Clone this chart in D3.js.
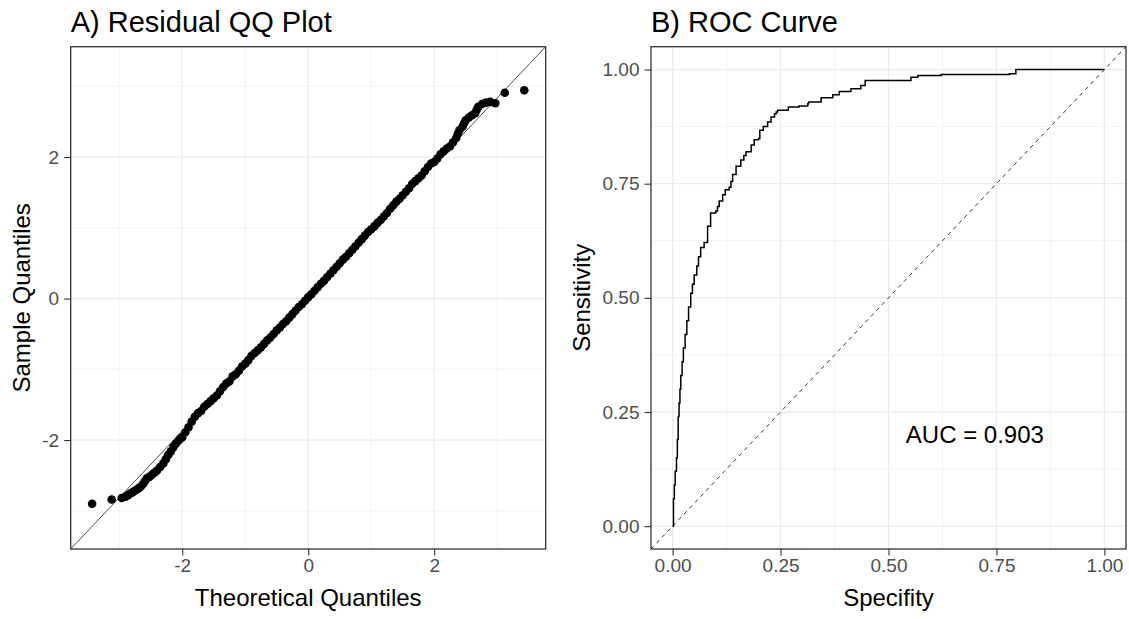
<!DOCTYPE html>
<meta charset="utf-8">
<html>
<style type='text/css'>
	body { margin:0; background:#fff; }
	text { font-family: "Liberation Sans", Arial, sans-serif; }
</style>
<script src="https://d3js.org/d3.v7.min.js"></script>
<body>
<svg id="chart" width="1129" height="619"></svg>

<script>

// ---- Panel A data: residual QQ
var theoretical = [
  -3.43, -3.12, -2.96, -2.90, -2.86, -2.83, -2.79, -2.76, -2.72, -2.69, -2.66, -2.62, -2.59, -2.56, -2.52, -2.48, -2.44,
  -2.40, -2.35, -2.30, -2.26, -2.22, -2.18, -2.14, -2.10, -2.06, -2.03, -2.00,
  -1.95, -1.90, -1.85, -1.80, -1.75, -1.70, -1.65, -1.60, -1.55, -1.50, -1.45, -1.40, -1.35, -1.30, -1.25, -1.20,
  -1.15, -1.10, -1.05, -1.00, -0.95, -0.90, -0.85, -0.80, -0.75, -0.70, -0.65, -0.60, -0.55, -0.50, -0.45, -0.40,
  -0.35, -0.30, -0.25, -0.20, -0.15, -0.10, -0.05, 0.00, 0.05, 0.10, 0.15, 0.20, 0.25, 0.30, 0.35, 0.40,
  0.45, 0.50, 0.55, 0.60, 0.65, 0.70, 0.75, 0.80, 0.85, 0.90, 0.95, 1.00, 1.05, 1.10, 1.15, 1.20,
  1.25, 1.30, 1.35, 1.40, 1.45, 1.50, 1.55, 1.60, 1.65, 1.70, 1.75, 1.80, 1.85, 1.90, 1.95,
  2.00, 2.05, 2.10, 2.15, 2.20, 2.25, 2.30, 2.35, 2.375, 2.40, 2.45, 2.475, 2.50, 2.55, 2.60, 2.65, 2.675, 2.70,
  2.76, 2.82, 2.89, 2.97, 3.12, 3.43
];
var sample = [
  -2.90, -2.84, -2.82, -2.80, -2.78, -2.76, -2.74, -2.72, -2.70, -2.68, -2.66, -2.62, -2.58, -2.54, -2.52, -2.49, -2.46,
  -2.43, -2.38, -2.33, -2.27, -2.21, -2.16, -2.10, -2.05, -2.01, -1.98, -1.96,
  -1.89, -1.82, -1.74, -1.67, -1.62, -1.59, -1.53, -1.49, -1.45, -1.41, -1.37, -1.31, -1.25, -1.20, -1.17, -1.10,
  -1.07, -1.02, -0.96, -0.92, -0.87, -0.81, -0.77, -0.73, -0.69, -0.64, -0.59, -0.55, -0.50, -0.45, -0.41, -0.36,
  -0.32, -0.27, -0.22, -0.17, -0.12, -0.08, -0.03, 0.02, 0.06, 0.11, 0.16, 0.21, 0.25, 0.30, 0.35, 0.40,
  0.45, 0.50, 0.55, 0.59, 0.64, 0.69, 0.74, 0.79, 0.84, 0.89, 0.94, 0.98, 1.02, 1.07, 1.11, 1.16,
  1.21, 1.27, 1.32, 1.37, 1.41, 1.46, 1.51, 1.56, 1.62, 1.66, 1.70, 1.74, 1.80, 1.86, 1.91,
  1.93, 1.98, 2.04, 2.08, 2.12, 2.15, 2.21, 2.27, 2.33, 2.38, 2.43, 2.48, 2.52, 2.56, 2.59, 2.62, 2.67, 2.71,
  2.75, 2.77, 2.78, 2.76, 2.91, 2.945
];
// qq reference line end points
var qqLineX = [-3.77, 3.77];
var qqLineY = [-3.54, 3.56];

var qqMajor = [-2, 0, 2];
var qqMinor = [-3, -1, 1, 3];

// ---- Panel B data: ROC curve (step corners)
var rocX = [
  0, 0.002, 0.004, 0.006, 0.009, 0.011, 0.013, 0.015, 0.017, 0.019, 0.022, 0.025, 0.029, 0.033, 0.037, 0.042,
  0.046, 0.050, 0.056, 0.060, 0.065, 0.073, 0.081, 0.088, 0.100, 0.104, 0.108, 0.116, 0.122, 0.131, 0.135, 0.139,
  0.147, 0.158, 0.165, 0.170, 0.182, 0.189, 0.199, 0.202, 0.210, 0.220, 0.228, 0.236, 0.240, 0.243, 0.268, 0.293,
  0.313, 0.315, 0.344, 0.371, 0.386, 0.413, 0.436, 0.446, 0.552, 0.568, 0.622, 0.780, 0.795, 1.000
];
var rocY = [
  0, 0.06, 0.09, 0.12, 0.15, 0.19, 0.24, 0.27, 0.30, 0.33, 0.36, 0.39, 0.42, 0.45, 0.48, 0.51,
  0.53, 0.55, 0.57, 0.59, 0.61, 0.621, 0.657, 0.686, 0.69, 0.70, 0.712, 0.726, 0.737, 0.742, 0.755, 0.770,
  0.788, 0.802, 0.812, 0.820, 0.835, 0.846, 0.849, 0.867, 0.875, 0.885, 0.896, 0.903, 0.907, 0.911, 0.918, 0.920,
  0.925, 0.929, 0.938, 0.945, 0.952, 0.958, 0.965, 0.976, 0.983, 0.987, 0.989, 0.991, 1.000, 1.000
];
var aucText = "AUC = 0.903";
var aucPos = [0.7, 0.2];

var rocMajor = [0, 0.25, 0.5, 0.75, 1];
var rocMinor = [0.125, 0.375, 0.625, 0.875];

var svg = d3.select("#chart");
var top_ = 46.7, bottom = 549;

// scales
var xQQ = d3.scaleLinear().domain([-3.77, 3.77]).range([70.7, 545.7]);
var yQQ = d3.scaleLinear().domain([-3.54, 3.56]).range([bottom, top_]);
var xRoc = d3.scaleLinear().domain([-0.05, 1.05]).range([651, 1126]);
var yRoc = d3.scaleLinear().domain([-0.05, 1.05]).range([bottom, top_]);

// draws background grid, axes and titles for one panel
function panel(x, y, major, minor, fmt, title, xlab, ylab, ylabX, clipId) {
  var g = svg.append("g");
  var x0 = x.range()[0], x1 = x.range()[1];

  svg.append("clipPath").attr("id", clipId)
    .append("rect").attr("x", x0).attr("y", top_).attr("width", x1 - x0).attr("height", bottom - top_);

  // minor grid
  g.selectAll(".mx").data(minor).enter().append("line")
    .attr("x1", d => x(d)).attr("x2", d => x(d)).attr("y1", top_).attr("y2", bottom)
    .attr("stroke", "#EFEFEF").attr("stroke-width", 0.8);
  g.selectAll(".my").data(minor).enter().append("line")
    .attr("y1", d => y(d)).attr("y2", d => y(d)).attr("x1", x0).attr("x2", x1)
    .attr("stroke", "#EFEFEF").attr("stroke-width", 0.8);
  // major grid
  g.selectAll(".Mx").data(major).enter().append("line")
    .attr("x1", d => x(d)).attr("x2", d => x(d)).attr("y1", top_).attr("y2", bottom)
    .attr("stroke", "#EBEBEB").attr("stroke-width", 1.3);
  g.selectAll(".My").data(major).enter().append("line")
    .attr("y1", d => y(d)).attr("y2", d => y(d)).attr("x1", x0).attr("x2", x1)
    .attr("stroke", "#EBEBEB").attr("stroke-width", 1.3);

  // axes
  var ax = svg.append("g").attr("transform", "translate(0," + bottom + ")")
    .call(d3.axisBottom(x).tickValues(major).tickFormat(fmt).tickSize(6.5).tickPadding(3));
  var ay = svg.append("g").attr("transform", "translate(" + x0 + ",0)")
    .call(d3.axisLeft(y).tickValues(major).tickFormat(fmt).tickSize(6.5).tickPadding(5));
  [ax, ay].forEach(function(a) {
    a.select(".domain").remove();
    a.selectAll("line").attr("stroke", "#333333").attr("stroke-width", 1.1);
    a.selectAll("text").attr("fill", "#4D4D4D").style("font-size", "19px")
      .style("font-family", "'Liberation Sans', Arial, sans-serif");
  });

  // titles
  svg.append("text").attr("x", x0).attr("y", 32).text(title)
    .style("font-size", "29px").attr("fill", "#000");
  svg.append("text").attr("x", (x0 + x1) / 2).attr("y", 606).attr("text-anchor", "middle")
    .text(xlab).style("font-size", "24px").attr("fill", "#000");
  svg.append("text").attr("transform", "translate(" + ylabX + "," + (top_ + bottom) / 2 + ") rotate(-90)")
    .attr("text-anchor", "middle").text(ylab).style("font-size", "24px").attr("fill", "#000");
}

function border(x) {
  var x0 = x.range()[0], x1 = x.range()[1];
  svg.append("rect").attr("x", x0).attr("y", top_).attr("width", x1 - x0).attr("height", bottom - top_)
    .attr("fill", "none").attr("stroke", "#333333").attr("stroke-width", 1.3);
}

// ---- Panel A
panel(xQQ, yQQ, qqMajor, qqMinor, d => String(d), "A) Residual QQ Plot",
  "Theoretical Quantiles", "Sample Quantiles", 30, "clipA");

var gA = svg.append("g").attr("clip-path", "url(#clipA)");
gA.append("line")
  .attr("x1", xQQ(qqLineX[0])).attr("y1", yQQ(qqLineY[0]))
  .attr("x2", xQQ(qqLineX[1])).attr("y2", yQQ(qqLineY[1]))
  .attr("stroke", "#000").attr("stroke-width", 0.7);
gA.selectAll("circle")
  .data(theoretical.map((t, i) => [t, sample[i]]))
  .enter().append("circle")
    .attr("cx", d => xQQ(d[0]))
    .attr("cy", d => yQQ(d[1]))
    .attr("r", 4.3)
    .attr("fill", "#000");
border(xQQ);

// ---- Panel B
panel(xRoc, yRoc, rocMajor, rocMinor, d3.format(".2f"), "B) ROC Curve",
  "Specifity", "Sensitivity", 590, "clipB");

var gB = svg.append("g").attr("clip-path", "url(#clipB)");
gB.append("line")
  .attr("x1", xRoc(-0.05)).attr("y1", yRoc(-0.05))
  .attr("x2", xRoc(1.05)).attr("y2", yRoc(1.05))
  .attr("stroke", "#000").attr("stroke-width", 0.8).attr("stroke-dasharray", "4,4");

var rocLine = d3.line()
  .x(d => xRoc(d[0]))
  .y(d => yRoc(d[1]))
  .curve(d3.curveStepAfter);
gB.append("path")
  .attr("d", rocLine(rocX.map((v, i) => [v, rocY[i]])))
  .attr("fill", "none").attr("stroke", "#000").attr("stroke-width", 1.5);

gB.append("text")
  .attr("x", xRoc(aucPos[0])).attr("y", yRoc(aucPos[1]))
  .attr("dy", "0.35em").attr("text-anchor", "middle")
  .style("font-size", "24px").attr("fill", "#000")
  .text(aucText);
border(xRoc);

</script>
</body>
</html>
